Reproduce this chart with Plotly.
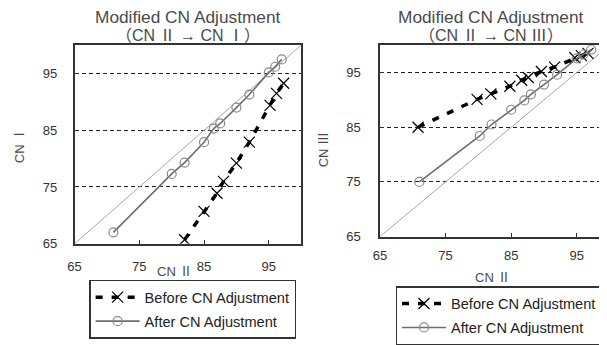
import plotly.graph_objects as go

# ---- data ----
left_before_x = [82, 85, 87, 88, 90, 92, 95.2, 96.2, 97.3]
left_before_y = [65.7, 70.7, 73.9, 76, 79.2, 82.9, 89.4, 91.5, 93.3]
left_after_x = [71, 80, 82, 85, 86.5, 87.5, 90, 92, 95, 96, 97]
left_after_y = [67, 77.3, 79.3, 82.9, 85.3, 86.2, 89, 91.3, 95.2, 96.2, 97.5]

right_before_x = [70.8, 79.8, 81.9, 84.8, 86.6, 87.6, 89.6, 91.6, 94.7, 95.7, 96.7]
right_before_y = [85, 90.1, 91.1, 92.5, 93.6, 94.1, 95.2, 96, 97.7, 98.1, 98.5]
right_after_x = [71, 80.2, 82, 85, 87, 88, 90, 92, 95, 96, 97.2]
right_after_y = [75, 83.4, 85.5, 88.2, 89.9, 91, 92.8, 94.6, 97.6, 98.3, 99.2]

ref_line = [65, 100]
tick_vals = [65, 75, 85, 95]
tick_text = ["65", "75", "85", "95"]

FONT = "Liberation Sans, Arial, Noto Sans CJK KR, sans-serif"
# the page body keeps its default 8px margin, so the figure is sized to fit the window
OFF = 8
W, H = 607 - OFF, 345 - OFF

def PX(p):
    return (p - OFF) / W

def PY(p):
    return 1 - (p - OFF) / H

fig = go.Figure()

def add_panel(xa, ya, bx, by, ax, ay, leg):
    fig.add_trace(go.Scatter(x=ref_line, y=ref_line, mode="lines",
                             line=dict(color="#a8a8a8", width=1),
                             showlegend=False, xaxis=xa, yaxis=ya, hoverinfo="skip"))
    fig.add_trace(go.Scatter(x=bx, y=by, mode="lines+markers", name="Before CN Adjustment",
                             line=dict(color="black", width=3.5, dash="7px,9px"),
                             marker=dict(symbol="x-thin-open", size=11, color="black",
                                         line=dict(color="#222", width=1.2)),
                             xaxis=xa, yaxis=ya, legend=leg, legendgroup=leg + "a"))
    fig.add_trace(go.Scatter(x=ax, y=ay, mode="lines+markers", name="After CN Adjustment",
                             line=dict(color="#6e6e6e", width=1.6),
                             marker=dict(symbol="circle-open", size=9, color="#8a8a8a",
                                         line=dict(width=1.2)),
                             xaxis=xa, yaxis=ya, legend=leg, legendgroup=leg + "b"))

add_panel("x", "y", left_before_x, left_before_y, left_after_x, left_after_y, "legend")
add_panel("x2", "y2", right_before_x, right_before_y, right_after_x, right_after_y, "legend2")

axis_common = dict(showline=True, linecolor="#333", linewidth=1.5, ticks="inside",
                   ticklen=4, tickcolor="#333", tickvals=tick_vals, ticktext=tick_text,
                   tickfont=dict(family=FONT, size=13, color="#333"), zeroline=False)
x_common = dict(showgrid=False, **axis_common)
y_common = dict(showgrid=True, gridcolor="#222", griddash="4px,3px", gridwidth=1,
                **axis_common)

legend_common = dict(xanchor="left", yanchor="top", bordercolor="#333", borderwidth=1.5,
                     bgcolor="white", font=dict(family=FONT, size=14.6, color="#222"),
                     tracegroupgap=2, itemwidth=44)

fig.update_layout(
    width=W, height=H, margin=dict(l=0, r=0, t=0, b=0),
    paper_bgcolor="white", plot_bgcolor="white",
    font=dict(family=FONT, color="#333"),
    xaxis=dict(domain=[PX(68.3), PX(297.5)], range=[65, 100], mirror=True,
               anchor="y", ticklabelstandoff=10, **x_common),
    yaxis=dict(domain=[PY(257), PY(47.3)], range=[65, 100], mirror=True,
               anchor="x", ticklabelstandoff=13, **y_common),
    xaxis2=dict(domain=[PX(377.3), 1.0], range=[65, 99.6], mirror=True,
                anchor="y2", ticklabelstandoff=6, **x_common),
    yaxis2=dict(domain=[PY(249.5), PY(47.3)], range=[65, 100], mirror=False,
                anchor="x2", ticklabelstandoff=15, **y_common),
    legend=dict(x=PX(83), y=PY(295), **legend_common),
    legend2=dict(x=PX(393), y=PY(302), **legend_common),
)

def ann(text, x, y, size, angle=0):
    fig.add_annotation(text=text, x=PX(x), y=PY(y), xref="paper", yref="paper",
                       xanchor="center", yanchor="middle",
                       showarrow=False, textangle=angle,
                       font=dict(family=FONT, size=size, color="#4a4a4a"))

ann("Modified CN Adjustment", 183, 17, 17.3)
ann("（CN Ⅱ → CN Ⅰ）", 183, 37, 16)
ann("Modified CN Adjustment", 490, 17, 17.3)
ann("（CN Ⅱ → CN Ⅲ）", 490, 37, 16)
ann("CN Ⅰ", 12, 153, 13, -90)
ann("CN Ⅲ", 321, 158, 13, -90)
ann("CN Ⅱ", 169, 286, 13)
ann("CN Ⅱ", 491, 293, 13)

fig.write_html("out.html")
